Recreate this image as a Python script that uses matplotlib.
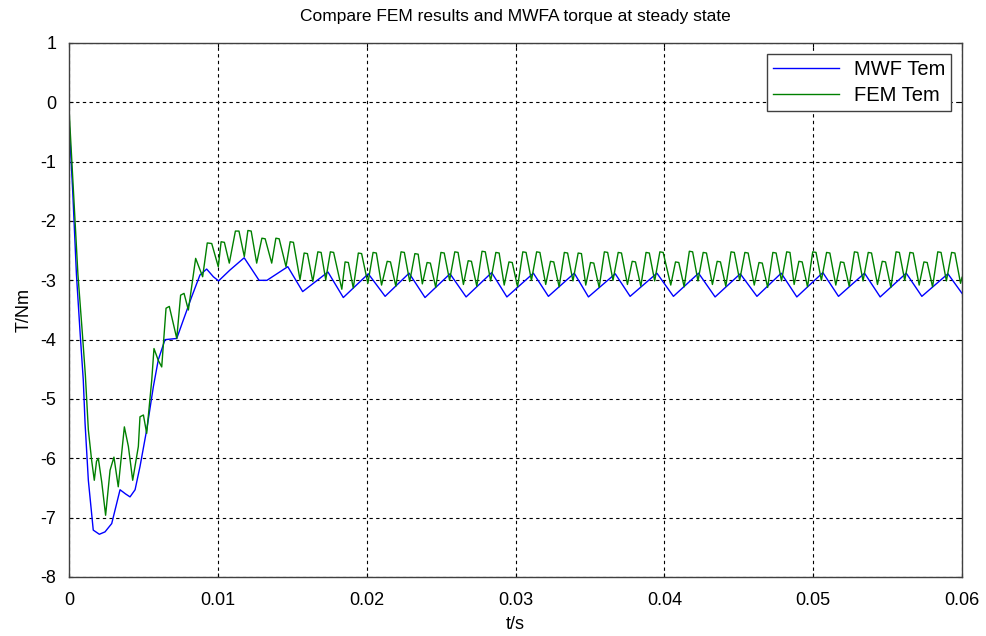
import matplotlib
matplotlib.use('Agg')
import matplotlib.pyplot as plt
import numpy as np

plt.rcParams['font.family'] = ['Liberation Sans', 'DejaVu Sans']
plt.rcParams['axes.unicode_minus'] = False

# MWF torque (time in ms, torque in Nm)
mwf_t = [0.0, 0.25, 0.5, 0.75, 0.96, 1.08, 1.30, 1.63, 2.04, 2.42, 2.87, 3.43, 3.80, 4.10,
         4.44, 4.77, 5.22, 5.67, 6.00, 6.45, 7.24, 7.68, 8.24, 8.80, 9.25, 9.70, 10.05, 10.80,
         11.77, 12.77, 13.30, 14.70, 15.70, 17.40,
         18.43, 20.11, 21.24, 22.85, 23.92, 25.60, 26.68, 28.40, 29.42, 31.20, 32.21, 33.95,
         34.90, 36.70, 37.70, 39.50, 40.61, 42.30, 43.41, 45.10, 46.22, 47.85, 48.90, 50.65,
         51.70, 53.45, 54.50, 56.25, 57.30, 59.05, 60.0]
mwf_v = [-0.30, -1.50, -2.90, -3.90, -4.68, -5.41, -6.37, -7.21, -7.28, -7.24, -7.10, -6.53, -6.60, -6.65,
         -6.53, -6.14, -5.52, -4.79, -4.34, -4.00, -3.98, -3.67, -3.28, -2.91, -2.81, -2.94, -3.01, -2.83,
         -2.62, -3.00, -3.00, -2.77, -3.19, -2.86,
         -3.29, -2.89, -3.27, -2.88, -3.29, -2.89, -3.28, -2.87, -3.28, -2.88, -3.27, -2.88,
         -3.28, -2.89, -3.27, -2.88, -3.27, -2.88, -3.28, -2.89, -3.27, -2.88, -3.28, -2.87,
         -3.27, -2.88, -3.28, -2.88, -3.27, -2.89, -3.22]

# FEM torque (time in ms, torque in Nm)
fem_t = [0.0, 0.3, 0.6, 0.9, 1.1, 1.30, 1.52, 1.70, 1.85, 1.97, 2.20, 2.46, 2.76, 3.02, 3.31,
         3.72, 3.99, 4.28, 4.66, 4.77, 5.00, 5.22, 5.56, 5.71, 6.00, 6.23, 6.52, 6.74, 7.24,
         7.50, 7.73, 8.02, 8.51, 8.98, 9.29, 9.59, 10.03, 10.22, 10.44, 10.77, 11.18, 11.42,
         11.78, 12.02, 12.24, 12.61, 12.96, 13.18, 13.62, 13.90, 14.12, 14.58, 14.86, 15.08,
         15.52, 15.80, 16.02, 16.38, 16.72, 16.94, 17.25, 17.56, 17.78,
         18.33, 18.55, 18.77, 19.10, 19.44, 19.66, 20.08, 20.43, 20.65, 21.00,
         21.38, 21.60, 21.96, 22.31, 22.53, 22.89, 23.24, 23.46, 23.74,
         24.06, 24.28, 24.64, 24.99, 25.21, 25.57, 25.92, 26.14, 26.50,
         26.82, 27.04, 27.40, 27.75, 27.97, 28.33, 28.68, 28.90, 29.24,
         29.56, 29.78, 30.14, 30.49, 30.71, 31.07, 31.42, 31.64, 32.03,
         32.35, 32.57, 32.93, 33.28, 33.50, 33.86, 34.21, 34.43, 34.72,
         35.04, 35.26, 35.62, 35.97, 36.19, 36.55, 36.90, 37.12, 37.52,
         37.84, 38.06, 38.42, 38.77, 38.99, 39.35, 39.70, 39.92, 40.43,
         40.75, 40.97, 41.33, 41.68, 41.90, 42.26, 42.61, 42.83, 43.23,
         43.55, 43.77, 44.13, 44.48, 44.70, 45.06, 45.41, 45.63, 46.04,
         46.36, 46.58, 46.94, 47.29, 47.51, 47.87, 48.22, 48.44, 48.72,
         49.04, 49.26, 49.62, 49.97, 50.19, 50.55, 50.90, 51.12, 51.52,
         51.84, 52.06, 52.42, 52.77, 52.99, 53.35, 53.70, 53.92, 54.32,
         54.64, 54.86, 55.22, 55.57, 55.79, 56.15, 56.50, 56.72, 57.12,
         57.44, 57.66, 58.02, 58.37, 58.59, 58.95, 59.30, 59.52, 59.90, 60.0]
fem_v = [-0.10, -1.50, -2.90, -3.90, -4.60, -5.52, -6.03, -6.37, -6.05, -6.00, -6.40, -6.96, -6.20, -5.98, -6.48,
         -5.47, -5.80, -6.37, -5.80, -5.30, -5.27, -5.58, -4.68, -4.15, -4.35, -4.46, -3.47, -3.44, -3.98,
         -3.25, -3.22, -3.50, -2.63, -2.94, -2.37, -2.38, -2.77, -2.35, -2.36, -2.71, -2.17, -2.17,
         -2.60, -2.16, -2.17, -2.71, -2.29, -2.30, -2.71, -2.29, -2.30, -2.77, -2.35, -2.36,
         -2.99, -2.54, -2.55, -3.02, -2.52, -2.53, -2.99, -2.52, -2.53,
         -3.15, -2.69, -2.70, -3.13, -2.54, -2.55, -3.05, -2.53, -2.54, -3.08,
         -2.68, -2.69, -3.10, -2.52, -2.53, -3.02, -2.55, -2.56, -3.06,
         -2.70, -2.71, -3.12, -2.53, -2.54, -3.00, -2.52, -2.53, -3.07,
         -2.67, -2.68, -3.10, -2.51, -2.52, -3.01, -2.53, -2.54, -3.08,
         -2.69, -2.70, -3.11, -2.52, -2.53, -3.00, -2.52, -2.53, -3.07,
         -2.68, -2.69, -3.11, -2.53, -2.54, -3.01, -2.54, -2.55, -3.08,
         -2.70, -2.71, -3.12, -2.52, -2.53, -3.00, -2.53, -2.54, -3.07,
         -2.68, -2.69, -3.10, -2.53, -2.54, -3.01, -2.52, -2.53, -3.08,
         -2.69, -2.70, -3.11, -2.51, -2.52, -3.01, -2.53, -2.54, -3.07,
         -2.68, -2.69, -3.10, -2.52, -2.53, -3.00, -2.53, -2.54, -3.08,
         -2.70, -2.71, -3.12, -2.53, -2.54, -3.01, -2.52, -2.53, -3.07,
         -2.68, -2.69, -3.11, -2.52, -2.53, -3.00, -2.53, -2.54, -3.08,
         -2.69, -2.70, -3.10, -2.52, -2.53, -3.01, -2.53, -2.54, -3.07,
         -2.68, -2.69, -3.12, -2.52, -2.53, -3.00, -2.53, -2.54, -3.08,
         -2.69, -2.70, -3.11, -2.52, -2.53, -3.01, -2.53, -2.54, -3.05, -2.95]

x_ticks = [0, 0.01, 0.02, 0.03, 0.04, 0.05, 0.06]
x_labels = ['0', '0.01', '0.02', '0.03', '0.04', '0.05', '0.06']
y_ticks = [-8, -7, -6, -5, -4, -3, -2, -1, 0, 1]

fig = plt.figure(figsize=(9.87, 6.36), dpi=100)
ax = fig.add_axes([0.0699, 0.0928, 0.9048, 0.8396])

ax.plot(np.array(mwf_t) / 1000, mwf_v, color='#0000ff', lw=1.0, label='MWF Tem')
ax.plot(np.array(fem_t) / 1000, fem_v, color='#008000', lw=1.0, label='FEM Tem')

ax.set_xlim(0, 0.06)
ax.set_ylim(-8, 1)
ax.set_xticks(x_ticks)
ax.set_xticklabels(x_labels)
ax.set_yticks(y_ticks)
ax.grid(True, color='black', linestyle=(0, (3, 3)), linewidth=0.8)
ax.tick_params(direction='in', top=True, right=True, length=3, labelsize=13)
ax.tick_params(axis='x', pad=11)
ax.tick_params(axis='y', pad=9)
for s in ax.spines.values():
    s.set_color('#404040')
    s.set_linewidth(1.0)

ax.set_title('Compare FEM results and MWFA torque at steady state', fontsize=12.5, pad=16)
ax.set_xlabel('t/s', fontsize=13, labelpad=5)
ax.set_ylabel('T/Nm', fontsize=13, labelpad=6)

leg = ax.legend(loc='upper right', fontsize=14.5, fancybox=False, framealpha=1,
                edgecolor='#404040', handlelength=3.3, borderaxespad=0.55,
                labelspacing=0.35, handletextpad=0.7, borderpad=0.3)
leg.get_frame().set_linewidth(1.0)

fig.savefig('out.png', dpi=100, facecolor='white')
